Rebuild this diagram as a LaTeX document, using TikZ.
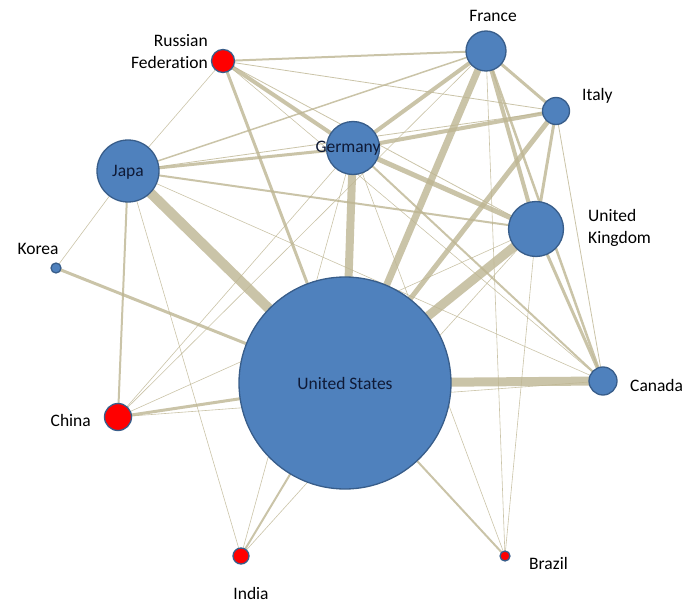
\documentclass[tikz,border=0pt]{standalone}
\usepackage{fontspec}
\setmainfont{Carlito}[Ligatures=NoCommon]
\usepackage{tikz}
\usetikzlibrary{backgrounds,positioning}
\definecolor{nodeblue}{HTML}{4F81BD}
\definecolor{rim}{HTML}{385D8A}
\definecolor{hotred}{HTML}{FF0000}
\definecolor{tiecol}{HTML}{BDB592}
\definecolor{navy}{HTML}{0F1A36}

\tikzset{
  country/.style={circle,draw=rim,line width=1.3pt,fill=nodeblue,inner sep=0pt,minimum size=#1},
  redcountry/.style={country=#1,fill=hotred},
  lbl/.style={font=\fontsize{17.5}{22}\selectfont,inner sep=0pt},
  tie/.style={draw=tiecol,opacity=.8,line width=#1},
}

\begin{document}
\begin{tikzpicture}[x=1pt,y=-1pt]
  \useasboundingbox (0,0) rectangle (697,610);
  % countries, sized by trade volume
  \node[country=212pt] (us) at (345,383) {};
  \node[country=62pt] (jp) at (128,171) {};
  \node[country=53pt] (de) at (353,148) {};
  \node[country=40pt] (fr) at (486,51) {};
  \node[country=27pt] (it) at (556,111) {};
  \node[country=55pt] (uk) at (536,229) {};
  \node[country=28pt] (ca) at (603,381) {};
  \node[country=10pt] (kr) at (56,268) {};
  \node[redcountry=23pt] (ru) at (223,61) {};
  \node[redcountry=27pt] (cn) at (118,417) {};
  \node[redcountry=16pt] (in) at (241,556) {};
  \node[redcountry=10pt] (br) at (505,556) {};
  % names
  \node[lbl,text=navy,anchor=base] (usl) at (345,389) {United States};
  \node[lbl,text=navy,anchor=base] (jpl) at (128,176) {Japa};
  \node[lbl,text=navy,anchor=base] (del) at (348,153) {Germany};
  \node[lbl,anchor=base] (frl) at (493,22) {France};
  \node[lbl,anchor=base west] (itl) at (582,101) {Italy};
  \node[lbl,align=left,anchor=north west] (ukl) at (588,209) {United\\Kingdom};
  \node[lbl,anchor=base west] (cal) at (630,391) {Canada};
  \node[lbl,anchor=base west] (brl) at (529,569) {Brazil};
  \node[lbl,anchor=base] (inl) at (251,599) {India};
  \node[lbl,anchor=base east] (cnl) at (91,426) {China};
  \node[lbl,anchor=base] (krl) at (38,254) {Korea};
  \node[lbl,align=right,anchor=north east] (rul) at (208,34) {Russian\\Federation};
  % trade links
  \begin{scope}[on background layer]
    \foreach \a/\b/\w in {us/jp/10,us/de/8,us/fr/7,us/uk/9,us/it/5,us/ca/9,us/cn/3,us/kr/3,us/ru/3,us/in/2,us/br/2,
      jp/de/3,jp/fr/1.5,jp/it/.8,jp/uk/2,jp/ca/.6,jp/cn/2,jp/kr/.6,jp/in/.6,jp/ru/.6,
      de/fr/4,de/it/4,de/uk/5,de/ca/2,de/br/.6,de/cn/.6,de/in/.6,de/ru/4,
      fr/it/3,fr/uk/4,fr/ca/2.5,fr/br/.6,fr/cn/.6,fr/ru/2,
      it/uk/3,it/ca/.8,it/ru/.8,
      uk/ca/3,uk/br/.6,uk/cn/.6,uk/in/.6,uk/ru/.8,
      ca/cn/.6,ca/ru/.6}
      \draw[tie=\w pt] (\a.center) -- (\b.center);
  \end{scope}
\end{tikzpicture}
\end{document}
